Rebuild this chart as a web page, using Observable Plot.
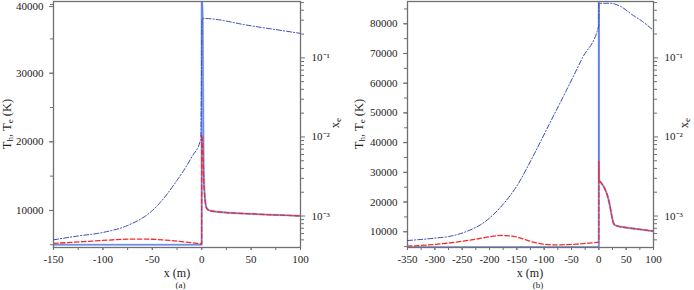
<!DOCTYPE html>
<html><head><meta charset="utf-8">
<script src="https://cdn.jsdelivr.net/npm/d3@7"></script>
<script src="https://cdn.jsdelivr.net/npm/@observablehq/plot@0.6"></script>
<style>
body{margin:0;background:#fff;}
#wrap{position:relative;width:694px;height:290px;font-family:"Liberation Serif","Times New Roman",serif;color:#222;overflow:hidden}
.p{position:absolute;top:0}
.lbl{position:absolute;white-space:nowrap;font-size:12.5px;line-height:1;transform:translate(-50%,-50%)}
.rot{transform:translate(-50%,-50%) rotate(-90deg)}
.lbl sub{font-size:0.72em;vertical-align:-0.3em;line-height:0}
</style></head><body><div id="wrap"></div>
<script>
// ---------- data: panel (a) ----------
const xA_Th = [-150, -0.01, 0, 1, 1.5, 2, 3, 5, 8, 20, 50, 100];
const TA_h  = [5000, 5000, 41500, 38000, 25000, 16500, 12500, 10400, 10000, 9750, 9500, 9200];
const xA_Te = [-150, -120, -100, -80, -65, -50, -30, -10, -0.01, 0, 1, 1.5, 2, 3, 5, 8, 20, 50, 100];
const TA_e  = [5200, 5450, 5630, 5790, 5830, 5800, 5600, 5300, 5150, 21000, 19500, 17000, 14500, 12000, 10300, 9950, 9750, 9500, 9200];
const xA_xe = [-150, -125, -100, -75, -50, -25, -10, -1, 0.5, 50, 100];
const xeA   = [5.0e-4, 5.6e-4, 6.2e-4, 7.6e-4, 1.17e-3, 2.82e-3, 5.6e-3, 9.3e-3, 0.316, 0.254, 0.204];
// ---------- data: panel (b) ----------
const xB_Th = [-350, -0.01, 0, 0.3, 5, 10, 15, 20, 24, 27, 32, 50, 75, 100];
const TB_h  = [4800, 4850, 150000, 27600, 26300, 24800, 22600, 19000, 15000, 12800, 12000, 11400, 10800, 10200];
const xB_Te = [-350, -300, -270, -240, -220, -200, -180, -160, -140, -120, -100, -80, -60, -40, -20, -0.01, 0, 0.3, 5, 10, 15, 20, 24, 27, 32, 50, 75, 100];
const TB_e  = [5150, 5730, 6300, 7070, 7650, 8300, 8750, 8550, 7700, 6500, 5800, 5600, 5650, 5850, 6150, 6500, 33700, 27600, 26300, 24800, 22600, 19000, 15000, 12800, 12000, 11400, 10800, 10200];
const xB_xe = [-350, -300, -275, -240, -210, -180, -150, -120, -90, -60, -30, -0.01, 0, 20, 40, 60, 80, 100];
const xeB   = [4.9e-4, 5.25e-4, 5.5e-4, 6.46e-4, 8.3e-4, 1.29e-3, 2.4e-3, 5.75e-3, 0.0148, 0.038, 0.1, 0.257, 0.49, 0.49, 0.447, 0.355, 0.288, 0.222];
// ---------- tick labels ----------
const xTicksA = [-150, -100, -50, 0, 50, 100];
const xTicksB = [-350, -300, -250, -200, -150, -100, -50, 0, 50, 100];
const yTicksA = [10000, 20000, 30000, 40000];
const yTicksB = [10000, 20000, 30000, 40000, 50000, 60000, 70000, 80000];
const logTicks = [1e-3, 1e-2, 1e-1];
const logLabels = ["10\u207B\u00B3", "10\u207B\u00B2", "10\u207B\u00B9"];

const pts = (xs, ys) => xs.map((x, i) => ({x, y: ys[i]}));
const minorLog = [];
for (const d of [1e-4, 1e-3, 1e-2, 1e-1]) for (let k = 2; k <= 9; k++) minorLog.push(d * k);

const W = 347, H = 290;
const STYLE = {fontFamily: "Liberation Serif, Times New Roman, serif", fontSize: "11px", color: "#222", background: "transparent", overflow: "visible"};
const GRAY = "#707070";

function panel(opt) {
  const common = {width: W, height: H, marginLeft: opt.ml, marginRight: opt.mr, marginTop: 1, marginBottom: 43, style: STYLE};
  const x = {domain: opt.xd, axis: null};
  const topTick = opt.yt.filter(v => opt.yd[1] - v < 1500);
  const restTicks = opt.yt.filter(v => opt.yd[1] - v >= 1500);
  const tPlot = Plot.plot({
    ...common,
    x,
    y: {domain: opt.yd, axis: null},
    marks: [
      Plot.axisX({ticks: d3.range(opt.xd[0], opt.xd[1] + 1, 25), tickFormat: () => "", tickSize: 3, stroke: GRAY, label: null}),
      Plot.axisX({ticks: opt.xt, tickFormat: d => String(d), tickSize: 3, tickPadding: 5, stroke: GRAY, label: null}),
      Plot.axisY({ticks: d3.range(5000, opt.yd[1], 5000), tickFormat: () => "", tickSize: 3, stroke: GRAY, label: null}),
      Plot.axisY({ticks: restTicks, tickFormat: d => String(d), tickSize: 4, tickPadding: 6, stroke: GRAY, label: null}),
      Plot.axisY({ticks: topTick, tickFormat: d => String(d), tickSize: 4, tickPadding: 6, stroke: GRAY, label: null, dy: 2}),
      Plot.line(pts(opt.xh, opt.th), {x: "x", y: "y", stroke: "#a5b8f4", strokeWidth: 2.2, curve: "monotone-x", clip: true}),
      Plot.line(pts(opt.xh, opt.th), {x: "x", y: "y", stroke: "#5577e8", strokeWidth: 0.9, curve: "monotone-x", clip: true}),
      Plot.line(pts(opt.xe, opt.te), {x: "x", y: "y", stroke: "#f42a2a", strokeWidth: 1.3, strokeDasharray: "4.5,2.5", curve: "monotone-x", clip: true}),
      Plot.frame({stroke: GRAY, strokeWidth: 1.3})
    ]
  });
  const xPlot = Plot.plot({
    ...common,
    x,
    y: {type: "log", domain: [4e-4, 0.516], axis: null},
    marks: [
      Plot.axisY({anchor: "right", ticks: minorLog.filter(v => v > 4e-4 && v < 0.516), tickFormat: () => "", tickSize: 3, stroke: GRAY, label: null}),
      Plot.axisY({anchor: "right", ticks: logTicks, tickFormat: d => logLabels[logTicks.indexOf(d)], tickSize: 4, tickPadding: 7, stroke: GRAY, label: null}),
      Plot.line(pts(opt.xx, opt.xev), {x: "x", y: "y", stroke: "#3a4cb0", strokeWidth: 1, strokeDasharray: "5,2,1.2,2", curve: "monotone-x", clip: true})
    ]
  });
  const wrap = document.getElementById("wrap");
  for (const p of [tPlot, xPlot]) {
    p.classList.add("p");
    p.style.left = opt.left + "px";
    wrap.appendChild(p);
  }
}

panel({left: 0, ml: 53, mr: 47, xd: [-150, 100], yd: [4600, 40450], xt: xTicksA, yt: yTicksA,
  xh: xA_Th, th: TA_h, xe: xA_Te, te: TA_e, xx: xA_xe, xev: xeA});
panel({left: 347, ml: 60, mr: 41, xd: [-350, 100], yd: [4700, 87500], xt: xTicksB, yt: yTicksB,
  xh: xB_Th, th: TB_h, xe: xB_Te, te: TB_e, xx: xB_xe, xev: xeB});

const labels = [
  {html: "T<sub>h</sub>, T<sub>e</sub> (K)", x: 7, y: 124, rot: true},
  {html: "x<sub>e</sub>", x: 335, y: 123, rot: true},
  {html: "x (m)", x: 177, y: 273, fs: 12},
  {html: "(a)", x: 180.5, y: 285.3, fs: 9},
  {html: "T<sub>h</sub>, T<sub>e</sub> (K)", x: 359, y: 124, rot: true},
  {html: "x<sub>e</sub>", x: 684, y: 123, rot: true},
  {html: "x (m)", x: 530, y: 273, fs: 12},
  {html: "(b)", x: 538, y: 285.3, fs: 9}
];
const wrap = document.getElementById("wrap");
for (const l of labels) {
  const d = document.createElement("div");
  d.className = "lbl" + (l.rot ? " rot" : "");
  d.innerHTML = l.html;
  d.style.left = l.x + "px";
  d.style.top = l.y + "px";
  if (l.fs) d.style.fontSize = l.fs + "px";
  wrap.appendChild(d);
}
</script>
</body></html>
